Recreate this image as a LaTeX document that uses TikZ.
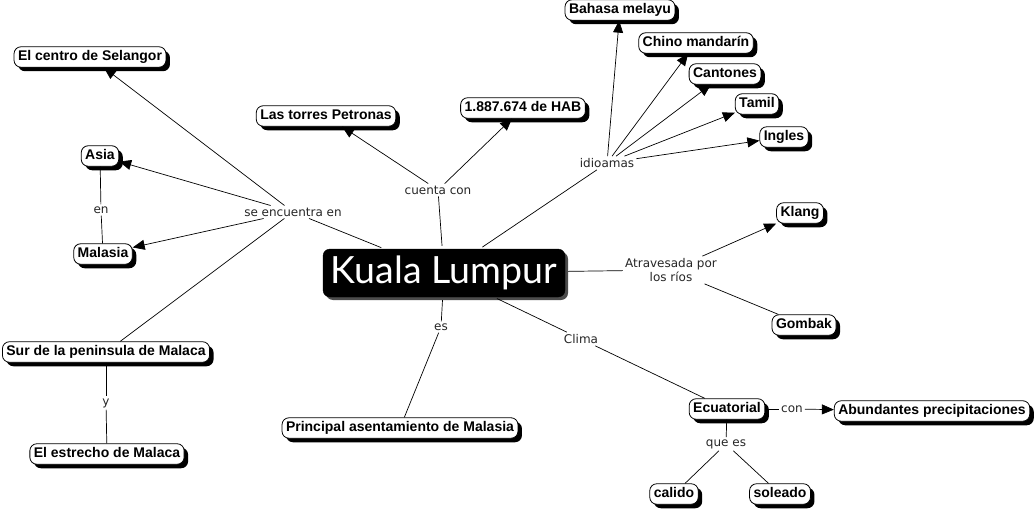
\documentclass[tikz,border=0pt]{standalone}
\usepackage{fontspec}
\setmainfont{Liberation Sans}
\newfontfamily\linkfont{DejaVu Sans}
\newfontfamily\kfont{Lato}
\usetikzlibrary{arrows.meta,shadows}
\begin{document}
\begin{tikzpicture}[x=1pt,y=-1pt,
 concept/.style={draw=black, line width=0.8pt, fill=white, rounded corners=7pt,
   inner xsep=4pt, inner ysep=3.5pt, font=\fontsize{14}{16}\selectfont\bfseries,
   text height=10.5pt, text depth=3pt,
   drop shadow={shadow xshift=4pt,shadow yshift=-4pt,fill=black,opacity=1}},
 link/.style={inner sep=2pt, font=\linkfont\fontsize{12}{14}\selectfont, text=black!85},
 conn/.style={line width=0.7pt},
 arr/.style={conn, -{Triangle[length=12pt,width=10pt]}},
]
\useasboundingbox[fill=white] (0,0) rectangle (1036,511);

% central node
\node[draw=black, fill=black, rounded corners=7pt, minimum width=242pt, minimum height=48pt,
  text=white, font=\kfont\fontsize{37.5}{40}\selectfont,
  drop shadow={shadow xshift=3pt,shadow yshift=-3pt,fill=black!70,opacity=1}]
  (kl) at (444,273) {Kuala Lumpur};

% concepts
\node[concept] (selangor) at (90,57) {El centro de Selangor};
\node[concept] (torres) at (326,116) {Las torres Petronas};
\node[concept] (hab) at (523,108) {1.887.674 de HAB};
\node[concept] (bahasa) at (620,10) {Bahasa melayu};
\node[concept] (chino) at (696,43) {Chino mandarín};
\node[concept] (cantones) at (725,74) {Cantones};
\node[concept] (tamil) at (757,104) {Tamil};
\node[concept] (ingles) at (784,137) {Ingles};
\node[concept] (asia) at (100,156) {Asia};
\node[concept] (malasia) at (103,254) {Malasia};
\node[concept] (klang) at (800,213) {Klang};
\node[concept] (gombak) at (804,325) {Gombak};
\node[concept] (sur) at (106,352) {Sur de la peninsula de Malaca};
\node[concept] (estrecho) at (107,454) {El estrecho de Malaca};
\node[concept] (principal) at (400,428) {Principal asentamiento de Malasia};
\node[concept] (ecuatorial) at (727,409) {Ecuatorial};
\node[concept] (abund) at (932,411) {Abundantes precipitaciones};
\node[concept] (calido) at (674,494) {calido};
\node[concept] (soleado) at (780,494) {soleado};

% linking phrases
\node[link] (se) at (293,212) {se encuentra en};
\node[link] (cuenta) at (438,190) {cuenta con};
\node[link] (idio) at (607,163) {idioamas};
\node[link, align=center] (atrav) at (671,270) {Atravesada por\\los ríos};
\node[link] (es) at (441,327) {es};
\node[link] (clima) at (581,339) {Clima};
\node[link] (en) at (101,210) {en};
\node[link] (y) at (106,403) {y};
\node[link] (con) at (792,409) {con};
\node[link] (quees) at (726,444) {que es};

% connectors
\draw[conn, shorten <=3pt] (kl) -- (se);
\draw[arr] (se) -- (selangor);
\draw[arr] (se) -- (asia);
\draw[arr] (se) -- (malasia);
\draw[conn] (se) -- (sur);

\draw[conn, shorten <=3pt] (kl) -- (cuenta);
\draw[arr] (cuenta) -- (torres);
\draw[arr] (cuenta) -- (hab);

\draw[conn, shorten <=3pt] (kl) -- (idio);
\draw[arr] (idio) -- (bahasa);
\draw[arr] (idio) -- (chino);
\draw[arr] (idio) -- (cantones);
\draw[arr] (idio) -- (tamil);
\draw[arr] (idio) -- (ingles);

\draw[conn, shorten <=3pt] (kl) -- (atrav);
\draw[arr] (atrav) -- (klang);
\draw[conn] (atrav) -- (gombak);

\draw[conn, shorten <=3pt] (kl) -- (es);
\draw[conn] (es) -- (principal);

\draw[conn, shorten <=3pt] (kl) -- (clima);
\draw[conn] (clima) -- (ecuatorial);

\draw[conn] (asia) -- (en);
\draw[conn] (en) -- (malasia);

\draw[conn] (sur) -- (y);
\draw[conn] (y) -- (estrecho);

\draw[conn] (ecuatorial) -- (con);
\draw[arr] (con) -- (abund);
\draw[conn] (ecuatorial) -- (quees);
\draw[conn] (quees) -- (calido);
\draw[conn] (quees) -- (soleado);
\end{tikzpicture}
\end{document}
